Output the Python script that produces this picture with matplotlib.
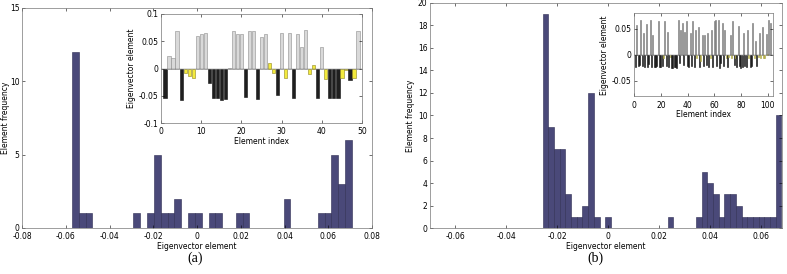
import numpy as np
import matplotlib.pyplot as plt

# ---- data (a): 49-element eigenvector and its histogram ----
vec_a = [-0.055, 0.023, 0.020, 0.069, -0.057, -0.008, -0.014, -0.017, 0.059, 0.063,
         0.065, -0.027, -0.055, -0.055, -0.057, -0.056, 0.001, 0.069, 0.063, 0.063,
         -0.052, 0.069, 0.068, -0.056, 0.057, 0.063, 0.010, -0.009, -0.049, 0.065,
         -0.017, 0.066, -0.055, 0.063, 0.040, 0.070, -0.011, 0.006, -0.055, 0.040,
         -0.019, -0.055, -0.055, -0.055, -0.017, -0.002, -0.022, -0.017, 0.069]
# p = large positive, n = large negative, z = near zero (yellow)
grp_a = "npppnzzzpppnnnnnppppnppnppzznpzpnpppzznpznnnzznzp"
counts_a = [12, 1, 1, 0, 0, 0, 0, 0, 0, 1, 0, 1, 5, 1, 1, 2, 0, 1, 1, 0, 1,
            1, 0, 0, 1, 1, 0, 0, 0, 0, 0, 2, 0, 0, 0, 0, 1, 1, 5, 3, 6]
range_a = (-0.0572, 0.0707)

# ---- data (b): 102-element eigenvector and its histogram ----
vec_b = [-0.024, 0.058, -0.022, -0.020, 0.068, -0.021, 0.043, -0.024, 0.060, -0.023,
         -0.018, 0.067, -0.024, 0.038, -0.023, -0.024, -0.022, 0.066, -0.024, -0.023,
         -0.021, -0.005, 0.066, -0.022, 0.045, -0.024, -0.004, -0.025, -0.025, -0.024,
         -0.023, -0.025, 0.067, -0.016, 0.049, 0.061, -0.020, 0.045, 0.066, -0.022,
         -0.024, 0.042, -0.021, 0.066, -0.023, 0.048, -0.006, 0.054, -0.024, -0.012,
         0.038, -0.022, 0.038, -0.019, 0.043, -0.023, -0.005, 0.049, -0.024, 0.066,
         0.068, -0.022, 0.068, -0.025, -0.016, 0.062, -0.021, 0.048, -0.005, -0.024,
         -0.004, 0.038, -0.006, 0.066, -0.020, -0.005, -0.024, 0.055, -0.022, -0.025,
         -0.024, 0.042, -0.021, -0.023, 0.048, -0.005, -0.024, -0.022, 0.062, -0.005,
         0.026, -0.021, -0.004, 0.043, -0.005, 0.054, -0.006, -0.005, 0.040, 0.001,
         0.067, 0.062]
counts_b = [19, 9, 7, 7, 3, 1, 1, 2, 12, 1, 0, 1, 0, 0, 0, 0, 0, 0, 0, 0, 0,
            0, 1, 0, 0, 0, 0, 1, 5, 4, 3, 1, 3, 3, 2, 1, 1, 1, 1, 1, 1, 10]
range_b = (-0.0257, 0.0681)

hist_col = '#4a4979'
hist_edge = '#2c2b52'
fs = 5.5

fig = plt.figure(figsize=(7.87, 2.74), dpi=100)


def style(ax):
    ax.tick_params(labelsize=fs, length=2, width=0.4, direction='in',
                   top=True, right=True, pad=1.8)
    ax.tick_params(axis='x', pad=3.0)
    for s in ax.spines.values():
        s.set_linewidth(0.5)
        s.set_color('#777777')


def hist_panel(rect, counts, rng, xlim, ylim, yticks, xticks):
    ax = fig.add_axes(rect)
    edges = np.linspace(rng[0], rng[1], len(counts) + 1)
    ax.bar(edges[:-1], counts, width=np.diff(edges), align='edge',
           color=hist_col, edgecolor=hist_edge, linewidth=0.4)
    ax.set_xlim(xlim)
    ax.set_ylim(ylim)
    ax.set_xticks(xticks)
    ax.set_xticklabels(['0' if t == 0 else '%g' % t for t in xticks])
    ax.set_yticks(yticks)
    style(ax)
    ax.set_xlabel('Eigenvector element', fontsize=fs, labelpad=0.5)
    ax.set_ylabel('Element frequency', fontsize=fs, labelpad=2)
    return ax


def inset_panel(rect, vec, colors, edges, xlim, ylim, xticks, yticks, width):
    ax = fig.add_axes(rect)
    idx = np.arange(1, len(vec) + 1)
    ax.bar(idx, vec, width=width, color=colors, edgecolor=edges, linewidth=0.4)
    ax.axhline(0, color='#666666', linewidth=0.3)
    ax.set_xlim(xlim)
    ax.set_ylim(ylim)
    ax.set_xticks(xticks)
    ax.set_yticks(yticks)
    ax.set_yticklabels(['0' if t == 0 else '%g' % t for t in yticks])
    style(ax)
    ax.set_xlabel('Element index', fontsize=fs, labelpad=0.5)
    ax.set_ylabel('Eigenvector element', fontsize=fs, labelpad=2)
    return ax


# (a)
ax_a = hist_panel([0.028, 0.168, 0.445, 0.803], counts_a, range_a, (-0.08, 0.08), (0, 15),
                  [0, 5, 10, 15], [-0.08, -0.06, -0.04, -0.02, 0, 0.02, 0.04, 0.06, 0.08])
ax_a.yaxis.set_label_coords(-0.035, 0.5)
cmap_a = {'p': '#d9d9d9', 'n': '#1f1f1f', 'z': '#f3ea3c'}
emap_a = {'p': '#8c8c8c', 'n': '#111111', 'z': '#8f8520'}
inset_panel([0.2046, 0.551, 0.2554, 0.398], vec_a,
            [cmap_a[g] for g in grp_a], [emap_a[g] for g in grp_a],
            (0, 50), (-0.1, 0.1), [0, 10, 20, 30, 40, 50],
            [-0.1, -0.05, 0, 0.05, 0.1], 0.8)
fig.text(0.248, 0.045, '(a)', fontsize=10, family='Liberation Serif', ha='center')

# (b)
hist_panel([0.5464, 0.167, 0.447, 0.823], counts_b, range_b, (-0.07, 0.0683), (0, 20),
           list(range(0, 21, 2)), [-0.06, -0.04, -0.02, 0, 0.02, 0.04, 0.06])
col_b = ['#a6a6a6' if v > 0.02 else ('#1e1e1e' if v < -0.015 else '#d6cf5e') for v in vec_b]
edge_b = ['#6e6e6e' if v > 0.02 else ('#111111' if v < -0.015 else '#a59f3a') for v in vec_b]
inset_panel([0.806, 0.648, 0.176, 0.303], vec_b, col_b, edge_b,
            (0, 104), (-0.08, 0.08), [0, 20, 40, 60, 80, 100],
            [-0.05, 0, 0.05], 0.75)
fig.text(0.757, 0.045, '(b)', fontsize=10, family='Liberation Serif', ha='center')

fig.savefig('out.png', dpi=100)
